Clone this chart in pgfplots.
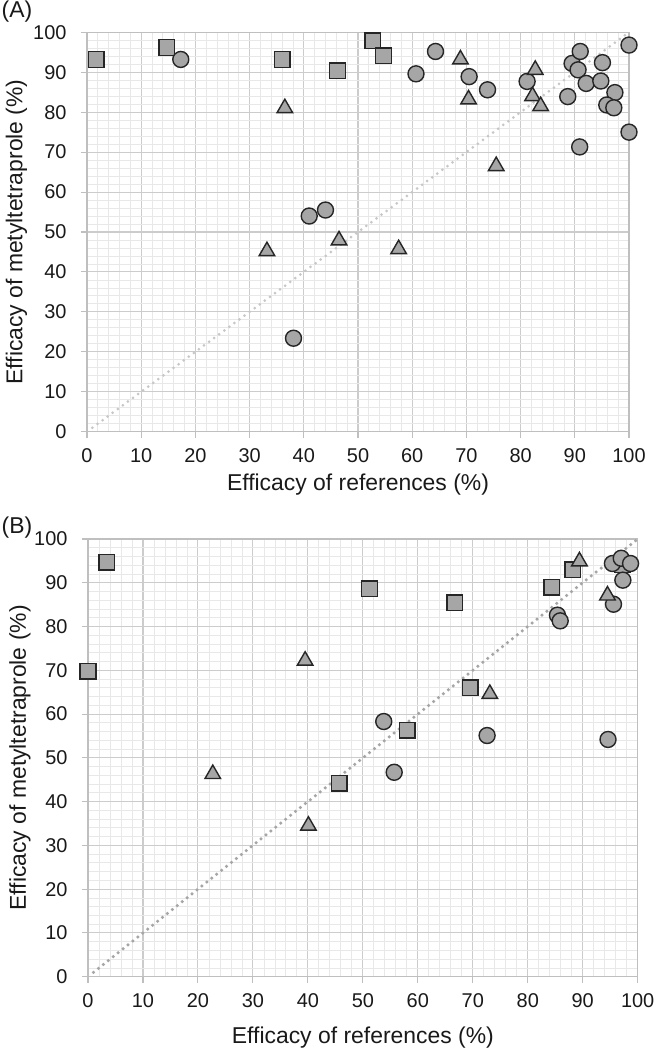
\documentclass[border=0pt]{standalone}
\usepackage{pgfplots}
\pgfplotsset{compat=1.18}
\usepackage{fontspec}
\setmainfont{Liberation Sans}

\pgfplotsset{
  myaxis/.style={
    scale only axis,
    xmin=0,xmax=100,ymin=0,ymax=100,
    xtick={0,10,...,100}, ytick={0,10,...,100},
    minor x tick num=4, minor y tick num=4,
    grid=both,
    major grid style={line width=1.1bp, draw=black!20},
    minor grid style={line width=0.8bp, draw=black!9},
    axis line style={line width=1.2bp, draw=black!25},
    tick align=outside, tick pos=left,
    major tick length=6bp, minor tick length=0pt,
    every tick/.style={line width=1.1bp, draw=black!25},
    /pgf/number format/assume math mode=true,
    tick label style={font=\fontsize{20}{22}\selectfont, text=black!90},
    xticklabel style={yshift=-7bp},
    yticklabel style={xshift=-11bp},
    label style={font=\fontsize{23}{26}\selectfont, text=black!90},
    xlabel={Efficacy of references (\%)},
    ylabel={Efficacy of metyltetraprole (\%)},
    clip=false,
  },
  circ/.style={only marks, mark=*, mark size=8bp, mark options={fill=black!35, draw=black!85, line width=1.4bp}},
  sq/.style={only marks, mark=square*, mark size=7.8bp, mark options={fill=black!35, draw=black!85, line width=1.4bp}},
  tri/.style={only marks, mark=triangle*, mark size=9bp, mark options={fill=black!35, draw=black!85, line width=1.4bp}},
}

\pgfplotstableread{
x y
1.7 93.2
14.7 96.2
36.0 93.2
46.2 90.4
52.7 97.9
54.7 94.1
}\Asq
\pgfplotstableread{
x y
17.3 93.2
41.0 54.0
44.0 55.5
38.1 23.4
60.7 89.6
64.3 95.2
70.5 88.9
73.9 85.6
81.2 87.7
88.7 83.9
89.5 92.2
91.0 95.2
90.6 90.6
92.1 87.2
95.1 92.4
94.8 87.8
97.4 84.9
95.9 81.8
97.2 81.1
100 96.8
100 75.0
90.9 71.3
}\Acirc
\pgfplotstableread{
x y
36.5 81.0
33.2 45.2
46.5 47.9
57.5 45.7
68.9 93.2
70.4 83.2
75.5 66.5
82.7 90.6
82.2 84.0
83.7 81.5
}\Atri
\pgfplotstableread{
x y
0 69.8
3.4 94.7
51.2 88.6
66.7 85.4
84.4 89.0
88.2 93.0
69.5 66.0
58.1 56.3
45.7 44.2
97.2 94.1
}\Bsq
\pgfplotstableread{
x y
39.5 72.2
22.7 46.3
40.1 34.5
73.1 64.6
89.4 94.9
94.5 87.1
}\Btri
\pgfplotstableread{
x y
53.8 58.3
55.7 46.7
72.6 55.1
94.6 54.2
85.4 82.6
85.9 81.3
95.6 85.1
97.3 90.6
95.4 94.4
97.0 95.6
98.7 94.4
}\Bcirc

\begin{document}
\begin{tikzpicture}
\useasboundingbox (0bp,0bp) rectangle (654bp,1052bp);
\begin{axis}[myaxis,
  at={(87bp,620.3bp)}, anchor=south west,
  width=542bp, height=399.4bp,
  x label style={at={(axis description cs:0.5,-0.133)}, anchor=center},
  y label style={at={(axis description cs:-0.130,0.5)}, anchor=center},
]
\addplot[draw=black!22, line width=3bp, line cap=round, dash pattern=on 0bp off 6.3bp] coordinates {(1,1) (100,100)};
\addplot[sq] table {\Asq};
\addplot[circ] table {\Acirc};
\addplot[tri] table {\Atri};
\end{axis}
\begin{axis}[myaxis,
  at={(88bp,75.3bp)}, anchor=south west,
  width=549.7bp, height=437.7bp,
  x label style={at={(axis description cs:0.5,-0.139)}, anchor=center},
  y label style={at={(axis description cs:-0.124,0.5)}, anchor=center},
]
\addplot[draw=black!35, line width=3.5bp, line cap=round, dash pattern=on 0bp off 6.3bp] coordinates {(1,1) (100,100)};
\addplot[sq] table {\Bsq};
\addplot[circ] table {\Bcirc};
\addplot[tri] table {\Btri};
\end{axis}
\node[font=\fontsize{23}{26}\selectfont, text=black!90] at (17bp,1040bp) {(A)};
\node[font=\fontsize{23}{26}\selectfont, text=black!90] at (17bp,524bp) {(B)};
\end{tikzpicture}
\end{document}
